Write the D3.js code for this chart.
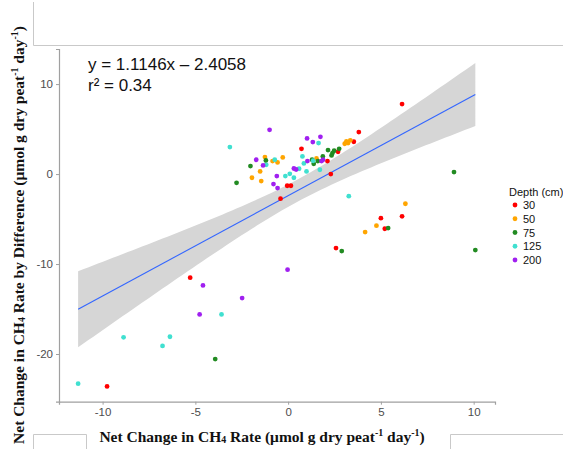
<!DOCTYPE html>
<html>
<head>
<meta charset="utf-8">
<script src="https://cdn.jsdelivr.net/npm/d3@7"></script>
<style>
  html, body { margin: 0; padding: 0; background: #fff; }
  svg { display: block; }
</style>
</head>
<body>
<svg id="chart" width="563" height="449"></svg>
<script>
// Net change in CH4 rate (x) vs. net change by difference (y), by sampling depth
const depthLabels = ["30", "50", "75", "125", "200"];
const depthColors = ["#FF0000", "#FFA500", "#228B22", "#40E0D0", "#A020F0"];

const depth30 = [
  [0.72, 2.81], [3.81, 4.67], [3.54, 3.59], [2.69, 2.48], [2.12, 1.44], [2.30, 0.0],
  [-0.05, -1.30], [0.15, -1.30], [-0.41, -2.74], [5.00, -4.90], [6.14, -4.70],
  [5.21, -6.08], [2.58, -8.23], [6.14, 7.78], [-5.28, -11.52], [-9.76, -23.6]
];
const depth50 = [
  [3.05, 3.37], [3.14, 3.62], [3.23, 3.44], [3.35, 3.75], [1.53, 1.73], [-1.95, -0.41],
  [-1.51, 0.29], [-1.45, -0.78], [-1.25, 1.89], [-0.84, 1.44], [-0.57, 1.29],
  [-0.29, 1.85], [6.32, -3.30], [4.76, -5.74], [4.15, -6.45]
];
const depth75 = [
  [2.75, 2.81], [2.48, 2.59], [2.15, 2.67], [2.39, 2.33], [2.34, 2.07], [1.29, 1.59],
  [1.87, 1.96], [1.60, 1.44], [1.38, 1.14], [-2.78, -0.97], [-2.03, 0.89], [-1.20, 1.51],
  [8.94, 0.22], [5.39, -6.00], [2.89, -8.56], [10.09, -8.45], [-3.93, -20.56]
];
const depth125 = [
  [-3.14, 3.00], [1.64, 3.44], [0.77, 1.96], [1.35, 1.48], [0.85, 1.18], [0.59, 0.59],
  [0.99, 0.29], [1.71, 0.48], [0.09, 0.03], [-0.15, -0.22], [0.31, -0.41], [3.27, -2.46],
  [-1.18, 1.03], [-0.72, 1.59], [-3.59, -15.6], [-8.87, -18.15], [-6.37, -18.08],
  [-6.77, -19.1], [-11.32, -23.3]
];
const depth200 = [
  [-1.00, 4.92], [1.02, 3.96], [1.74, 4.14], [1.33, 3.55], [1.04, 1.44], [1.88, 1.59],
  [1.80, 1.44], [0.31, 0.62], [0.43, 0.51], [-0.79, -1.11], [-0.57, -1.56], [-0.61, -0.22],
  [-1.72, 1.59], [-1.35, 0.96], [-0.03, -10.63], [-4.59, -12.38], [-2.48, -13.78], [-4.77, -15.6]
];
const seriesPoints = [depth30, depth50, depth75, depth125, depth200];

// Fitted line as reported
const fitSlope = 1.1146;
const fitIntercept = -2.4058;
const fitR2 = "0.34";

const xTicks = [-10, -5, 0, 5, 10];
const yTicks = [-20, -10, 0, 10];

const svg = d3.select("#chart");

const x = d3.scaleLinear().domain([-12.35, 11.15]).range([59, 495]);
const y = d3.scaleLinear().domain([-25.3, 13.9]).range([401.7, 49]);

// Thin frame lines around the figure
const frame = svg.append("g").attr("stroke", "#c9c9c9").attr("stroke-width", 1).attr("fill", "none");
frame.append("path").attr("d", "M33.5,2 V45.5 H563");
frame.append("path").attr("d", "M33.5,449 V434.5 H86.5 V449");
frame.append("path").attr("d", "M450.5,449 V434.5 H563");

// Confidence band (95%) around the fitted line
const all = seriesPoints.flat();
const n = all.length;
const xbar = d3.mean(all, d => d[0]);
const sxx = d3.sum(all, d => (d[0] - xbar) ** 2);
const sse = d3.sum(all, d => (d[1] - (fitSlope * d[0] + fitIntercept)) ** 2);
const s = Math.sqrt(sse / (n - 2));
const tCrit = 1.988;
const xMin = d3.min(all, d => d[0]);
const xMax = d3.max(all, d => d[0]);
const grid = d3.range(0, 81).map(i => xMin + (xMax - xMin) * i / 80);
const band = grid.map(v => {
  const fit = fitSlope * v + fitIntercept;
  const hw = tCrit * s * Math.sqrt(1 / n + (v - xbar) ** 2 / sxx);
  return { x: v, lo: fit - hw, hi: fit + hw };
});

svg.append("path")
  .datum(band)
  .attr("fill", "#d6d6d6")
  .attr("d", d3.area().x(d => x(d.x)).y0(d => y(d.lo)).y1(d => y(d.hi)));

svg.append("line")
  .attr("x1", x(xMin)).attr("y1", y(fitSlope * xMin + fitIntercept))
  .attr("x2", x(xMax)).attr("y2", y(fitSlope * xMax + fitIntercept))
  .attr("stroke", "#3366FF").attr("stroke-width", 1.1);

// Points
seriesPoints.forEach((pts, i) => {
  svg.append("g").selectAll("circle")
    .data(pts)
    .join("circle")
    .attr("cx", d => x(d[0]))
    .attr("cy", d => y(d[1]))
    .attr("r", 2.4)
    .attr("fill", depthColors[i]);
});

// Axes
const axisColor = "#a0a0a0";
const xAxis = svg.append("g")
  .attr("transform", `translate(0,${y.range()[0]})`)
  .call(d3.axisBottom(x).tickValues(xTicks).tickSize(3).tickPadding(3).tickFormat(d => d));
const yAxis = svg.append("g")
  .attr("transform", `translate(${x.range()[0]},0)`)
  .call(d3.axisLeft(y).tickValues(yTicks).tickSize(3).tickPadding(3).tickFormat(d => d));
[xAxis, yAxis].forEach(g => {
  g.select(".domain").attr("stroke", axisColor).attr("stroke-width", 1.2);
  g.selectAll(".tick line").attr("stroke", axisColor);
  g.selectAll(".tick text")
    .attr("fill", "#4d4d4d")
    .attr("font-family", "Liberation Sans, Arial, sans-serif")
    .attr("font-size", 11.5);
});

// Equation label
const eq = svg.append("g")
  .attr("font-family", "Liberation Sans, Arial, sans-serif")
  .attr("font-size", 17)
  .attr("fill", "#111");
eq.append("text").attr("x", 88).attr("y", 69.5)
  .text(`y = ${fitSlope}x \u2013 ${Math.abs(fitIntercept)}`);
eq.append("text").attr("x", 88).attr("y", 90.5)
  .text(`r\u00B2 = ${fitR2}`);

// Axis titles (bold serif with sub/superscripts)
function titleText(sel, parts, size) {
  const small = size * 0.64;
  parts.forEach(p => {
    const t = sel.append("tspan").text(p.t);
    if (p.sub) t.attr("font-size", small).attr("dy", 1);
    if (p.sup) t.attr("font-size", small).attr("dy", -size * 0.36);
    if (p.back) t.attr("dy", p.back * size);
  });
}
const titleFont = "Liberation Serif, Times New Roman, serif";

const xSize = 15.5;
const xt = svg.append("text")
  .attr("x", 262).attr("y", 442)
  .attr("text-anchor", "middle")
  .attr("font-family", titleFont).attr("font-weight", "bold").attr("font-size", xSize)
  .attr("fill", "#111");
titleText(xt, [
  { t: "Net Change in CH" }, { t: "4", sub: true }, { t: " Rate (\u03BCmol g dry peat", back: -1 / xSize },
  { t: "-1", sup: true }, { t: " day", back: 0.36 }, { t: "-1", sup: true }, { t: ")", back: 0.36 }
], xSize);

const ySize = 15.5;
const yt = svg.append("text")
  .attr("transform", "translate(24,235) rotate(-90)")
  .attr("text-anchor", "middle")
  .attr("font-family", titleFont).attr("font-weight", "bold").attr("font-size", ySize)
  .attr("fill", "#111");
titleText(yt, [
  { t: "Net Change in CH" }, { t: "4", sub: true }, { t: " Rate by Difference (\u03BCmol g dry peat", back: -1 / ySize },
  { t: "-1", sup: true }, { t: " day", back: 0.36 }, { t: "-1", sup: true }, { t: ")", back: 0.36 }
], ySize);

// Legend
const legend = svg.append("g")
  .attr("font-family", "Liberation Sans, Arial, sans-serif")
  .attr("font-size", 11)
  .attr("fill", "#111");
legend.append("text").attr("x", 509).attr("y", 196).text("Depth (cm)");
depthLabels.forEach((lab, i) => {
  const cy = 205 + i * 13.75;
  legend.append("circle").attr("cx", 515).attr("cy", cy).attr("r", 2.4).attr("fill", depthColors[i]);
  legend.append("text").attr("x", 523).attr("y", cy + 4).text(lab);
});
</script>
</body>
</html>
